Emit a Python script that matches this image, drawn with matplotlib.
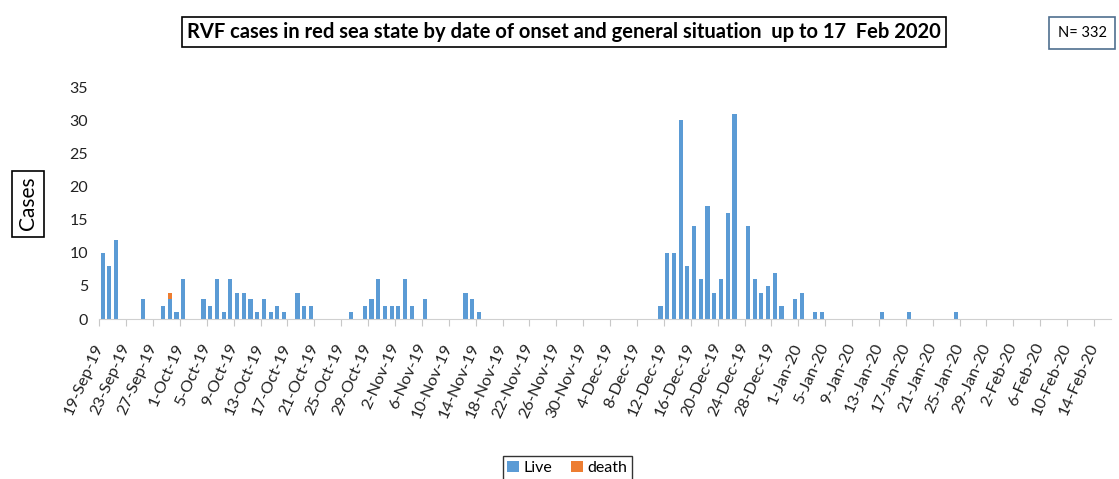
import datetime as dt
import matplotlib
matplotlib.use("Agg")
import matplotlib.pyplot as plt
import matplotlib.dates as mdates
from matplotlib.ticker import FuncFormatter

# onset date -> number of cases
onset_dates = [
    "2019-09-19", "2019-09-20", "2019-09-21", "2019-09-25", "2019-09-28",
    "2019-09-29", "2019-09-30", "2019-10-01", "2019-10-04", "2019-10-05",
    "2019-10-06", "2019-10-07", "2019-10-08", "2019-10-09", "2019-10-10",
    "2019-10-11", "2019-10-12", "2019-10-13", "2019-10-14", "2019-10-15",
    "2019-10-16", "2019-10-18", "2019-10-19", "2019-10-20", "2019-10-26",
    "2019-10-28", "2019-10-29", "2019-10-30", "2019-10-31", "2019-11-01",
    "2019-11-02", "2019-11-03", "2019-11-04", "2019-11-06", "2019-11-12",
    "2019-11-13", "2019-11-14", "2019-12-11", "2019-12-12", "2019-12-13",
    "2019-12-14", "2019-12-15", "2019-12-16", "2019-12-17", "2019-12-18",
    "2019-12-19", "2019-12-20", "2019-12-21", "2019-12-22", "2019-12-24",
    "2019-12-25", "2019-12-26", "2019-12-27", "2019-12-28", "2019-12-29",
    "2019-12-31", "2020-01-01", "2020-01-03", "2020-01-04", "2020-01-13",
    "2020-01-17", "2020-01-24",
]
live = [
    10, 8, 12, 3, 2,
    3, 1, 6, 3, 2,
    6, 1, 6, 4, 4,
    3, 1, 3, 1, 2,
    1, 4, 2, 2, 1,
    2, 3, 6, 2, 2,
    2, 6, 2, 3, 4,
    3, 1, 2, 10, 10,
    30, 8, 14, 6, 17,
    4, 6, 16, 31, 14,
    6, 4, 5, 7, 2,
    3, 4, 1, 1, 1,
    1, 1,
]
death = [0] * len(live)
death[onset_dates.index("2019-09-29")] = 1

start_date = dt.date(2019, 9, 19)
end_date = dt.date(2020, 2, 16)
total_cases = sum(live) + sum(death)

BLUE = "#5b9bd5"
ORANGE = "#ed7d31"
FONT = "Lato"

plt.rcParams["font.family"] = [FONT, "DejaVu Sans"]

fig = plt.figure(figsize=(11.19, 4.79), dpi=100)
ax = fig.add_axes([0.0887, 0.334, 0.904, 0.484])

x = [mdates.date2num(dt.date.fromisoformat(d)) + 0.5 for d in onset_dates]
ax.bar(x, live, width=0.62, color=BLUE, label="Live")
ax.bar(x, death, width=0.62, bottom=live, color=ORANGE, label="death")

ax.set_ylim(0, 35)
ax.set_yticks(range(0, 36, 5))
ax.set_xlim(mdates.date2num(start_date), mdates.date2num(end_date) + 0.5)

ticks = [mdates.date2num(start_date) + 4 * i for i in range(38)]
ax.set_xticks(ticks)
ax.xaxis.set_major_formatter(FuncFormatter(
    lambda v, p: "{}-{}".format(mdates.num2date(v).day, mdates.num2date(v).strftime("%b-%y"))))
plt.setp(ax.get_xticklabels(), rotation=66, ha="right", va="center",
         rotation_mode="anchor", fontsize=11.8, color="#222222")
ax.tick_params(axis="x", length=5, color="#c8c8c8", pad=13)
ax.tick_params(axis="y", length=0, labelsize=11.5, labelcolor="#222222", pad=8)

for side in ["top", "right", "left"]:
    ax.spines[side].set_visible(False)
ax.spines["bottom"].set_color("#d0d0d0")

fig.text(0.504, 0.933,
         "RVF cases in red sea state by date of onset and general situation  up to 17  Feb 2020",
         ha="center", va="center", fontsize=14.5, fontweight="bold",
         bbox=dict(boxstyle="square,pad=0.25", fc="white", ec="black", lw=1.2))
fig.text(0.967, 0.931, "N= {}".format(total_cases), ha="center", va="center", fontsize=10.5,
         bbox=dict(boxstyle="square,pad=0.6", fc="white", ec="#4f6f8f", lw=1.2))
fig.text(0.025, 0.575, "Cases", rotation=90, ha="center", va="center", fontsize=15,
         bbox=dict(boxstyle="square,pad=0.3", fc="white", ec="black", lw=1.2))

fig.legend(loc="upper center", bbox_to_anchor=(0.507, 0.064), ncol=2, frameon=True,
           fancybox=False, edgecolor="black", fontsize=11.5, handlelength=0.7,
           handleheight=0.7, handletextpad=0.3, columnspacing=1.2, borderpad=0.3)

fig.savefig("out.png", dpi=100)
